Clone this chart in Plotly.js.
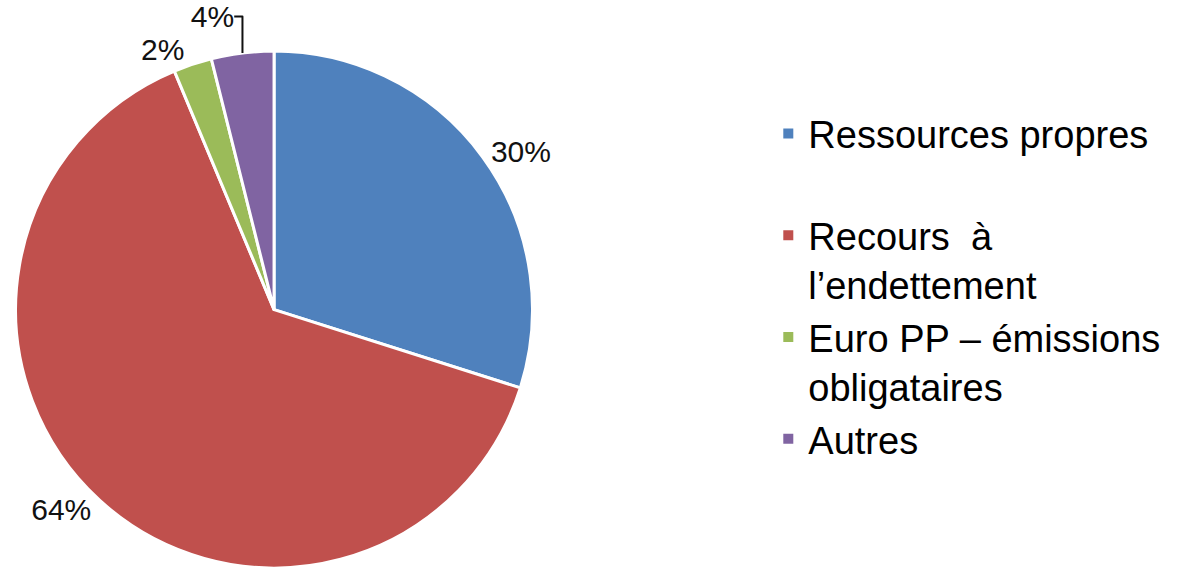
<!DOCTYPE html>
<html>
<head>
<meta charset="utf-8">
<script src="https://cdn.plot.ly/plotly-3.0.1.min.js"></script>
<style>html,body{margin:0;padding:0;background:#fff;}#chart{width:1182px;height:568px;}</style>
</head>
<body>
<div id="chart"></div>
<script>
var categories = ["Ressources propres<br>&nbsp;", "Recours  à<br>l’endettement", "Euro PP – émissions<br>obligataires", "Autres"];
var shares = [29.9, 63.8, 2.4, 3.9];
var colors = ["#4F81BD", "#C0504D", "#9BBB59", "#8064A2"];

var trace = {
  type: "pie",
  labels: categories,
  values: shares,
  sort: false,
  direction: "clockwise",
  rotation: 0,
  marker: {colors: colors, line: {color: "#ffffff", width: 3}},
  textinfo: "percent",
  texttemplate: "%{percent:.0%}",
  textposition: "outside",
  outsidetextfont: {family: "Liberation Sans, Arial, sans-serif", size: 30, color: "#111"},
  domain: {x: [0.0127, 0.451], y: [0, 0.91]},
  hoverinfo: "percent"
};

var layout = {
  width: 1182, height: 568,
  margin: {l: 0, r: 0, t: 0, b: 0},
  paper_bgcolor: "#fff",
  showlegend: true,
  legend: {
    x: 0.65, y: 0.82, xanchor: "left", yanchor: "top",
    valign: "top",
    font: {family: "Liberation Sans, Arial, sans-serif", size: 38, color: "#000"},
    itemsizing: "constant"
  }
};

Plotly.newPlot("chart", [trace], layout, {displayModeBar: false, staticPlot: true});
</script>
</body>
</html>
